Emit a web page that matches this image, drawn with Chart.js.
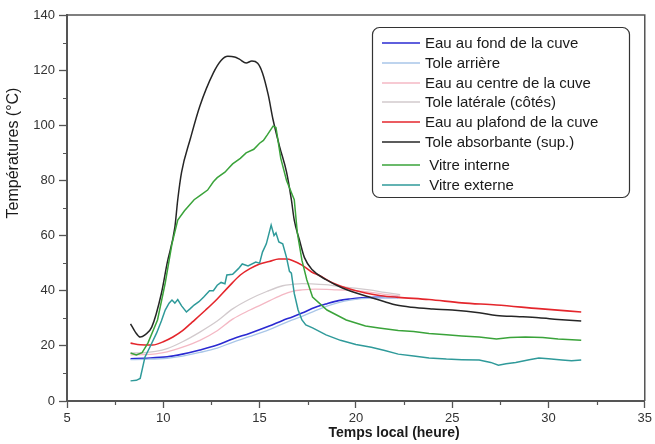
<!DOCTYPE html>
<html>
<head>
<meta charset="utf-8">
<script src="https://cdn.jsdelivr.net/npm/chart.js@4.4.1/dist/chart.umd.min.js"></script>
<style>
 body {margin:0; background:#fff;}
 canvas {display:block;}
</style>
</head>
<body>
<canvas id="chart" width="655" height="444"></canvas>
<script>
// DATA (temps local en heures, températures en °C)

var fond_x     = [8.3, 9.0, 10.2, 11.0, 11.9, 12.8, 13.6, 14.5, 15.5, 16.2, 16.7, 17.2, 17.9, 18.5, 19.1, 19.7, 20.3, 21.0, 21.6, 22.2];
var fond_y     = [15.3, 15.5, 16, 17, 18.5, 20.3, 22.5, 24.6, 27.2, 29.2, 30.5, 31.9, 34, 35.3, 36.4, 37, 37.4, 37.6, 37.6, 37.6];

var arriere_x  = [8.3, 9.0, 10.2, 11.0, 11.9, 12.8, 13.6, 14.5, 15.5, 16.2, 16.7, 17.2, 17.9, 18.5, 19.1, 19.7, 20.3, 21.0, 21.6, 22.3];
var arriere_y  = [15, 15.1, 15.5, 16.3, 17.6, 19.2, 21.3, 23.4, 25.9, 28, 29.4, 30.7, 32.8, 34.4, 35.7, 36.6, 37.1, 37.4, 37.5, 37.5];

var centre_x   = [8.3, 9.0, 9.6, 10.2, 11.0, 11.9, 12.8, 13.6, 14.5, 15.5, 16.2, 16.7, 17.2, 17.9, 18.5, 19.0, 19.65, 20.7, 21.4, 22.3];
var centre_y   = [16.7, 16.8, 17.1, 17.8, 19.5, 22, 25.5, 29.7, 33, 36.3, 38.6, 39.8, 40.3, 40.6, 40.5, 40.3, 40.2, 39.5, 38.8, 38];

var laterale_x = [8.3, 9.0, 9.6, 10.2, 11.0, 11.9, 12.8, 13.6, 14.5, 15.4, 16.2, 16.7, 17.2, 17.7, 18.4, 19.0, 19.8, 20.7, 21.5, 22.3];
var laterale_y = [17.4, 17.5, 18, 19, 21.5, 25, 29, 33.4, 37, 39.8, 41.8, 42.3, 42.6, 42.5, 42.2, 41.7, 41, 40.3, 39.4, 38.6];

var plafond_x  = [8.3, 8.8, 9.45, 10.0, 10.5, 11.0, 11.5, 12.2, 12.8, 13.4, 14.0, 14.5, 15.0, 15.5, 16.0, 16.4, 16.7, 17.2, 17.7, 18.1, 18.8, 19.5, 20.5, 21.3, 22.2, 23.8, 25.5, 27.3, 29.5, 31.7];
var plafond_y  = [21, 20.4, 20.3, 21.5, 23.2, 25.5, 28.6, 33, 37, 41.5, 45.7, 48, 49.7, 50.6, 51.5, 51.5, 51, 49.3, 46.8, 45.5, 42.8, 41, 39.2, 38.2, 37.6, 36.8, 35.6, 34.8, 33.5, 32.3];

var absorb_x   = [8.3, 8.55, 8.8, 9.05, 9.4, 9.9, 10.2, 10.6, 10.75, 10.95, 11.4, 11.9, 12.6, 13.0, 13.35, 13.7, 13.95, 14.3, 14.6, 14.9, 15.15, 15.45, 15.7, 16.05, 16.4, 16.65, 16.8, 17.07, 17.33, 17.75, 18.45, 19.3, 20.7, 21.5, 22.1, 22.9, 24.0, 25.0, 26.4, 27.3, 28.5, 29.5, 30.5, 31.7];
var absorb_y   = [28, 25, 23.2, 24, 26.8, 39, 50, 63, 73, 83, 95, 107, 119, 123.5, 125, 124.8, 124, 122.6, 123.3, 122.5, 119, 111, 102, 92, 83, 73, 65.6, 58.4, 52, 47.5, 44, 41, 37.7, 36, 34.8, 34, 33.4, 33, 32, 31, 30.6, 30.2, 29.6, 29];

var interne_x  = [8.3, 8.6, 8.9, 9.2, 9.7, 10.1, 10.45, 10.75, 11.1, 11.6, 11.9, 12.3, 12.6, 12.8, 13.2, 13.4, 13.6, 14.0, 14.3, 14.7, 15.0, 15.2, 15.4, 15.7, 15.85, 16.1, 16.4, 16.8, 16.96, 17.2, 17.45, 17.75, 18.5, 19.5, 20.5, 21.2, 22.2, 23.0, 23.8, 24.7, 25.5, 26.4, 27.3, 28.0, 28.8, 29.7, 30.5, 31.7];
var interne_y  = [17.4, 16.7, 17.5, 21, 29.4, 42.8, 57, 65.6, 69, 73, 74.5, 76.5, 79.5, 81, 83, 84.5, 86, 88, 90, 91.3, 93.5, 94.5, 96.5, 99.7, 99.2, 88, 80, 73, 61, 51, 44, 37.7, 33, 29.4, 27.2, 26.5, 25.6, 25.2, 24.5, 24, 23.6, 23.2, 22.5, 23, 23.2, 23, 22.5, 22];

var externe_x  = [8.3, 8.6, 8.8, 9.05, 9.3, 9.65, 9.9, 10.1, 10.3, 10.45, 10.6, 10.75, 10.95, 11.2, 11.4, 11.6, 11.85, 12.1, 12.4, 12.6, 12.8, 13.0, 13.2, 13.3, 13.6, 13.9, 14.1, 14.4, 14.8, 15.0, 15.15, 15.35, 15.6, 15.75, 15.85, 16.0, 16.2, 16.4, 16.55, 16.65, 16.8, 17.0, 17.2, 17.4, 17.75, 18.45, 19.2, 20.0, 20.8, 21.5, 22.2, 23.0, 23.8, 24.7, 25.5, 26.4, 27.0, 27.4, 27.8, 28.3, 29.0, 29.5, 30.0, 30.7, 31.2, 31.7];
var externe_y  = [7.3, 7.5, 8.2, 16, 19.5, 24.6, 29, 33, 35.5, 36.6, 35.5, 36.8, 34.5, 32.3, 33.5, 34.8, 36, 37.7, 40, 40, 42, 43, 42.5, 45.7, 46, 48, 49.7, 49, 50.4, 50, 54, 57, 63.8, 60, 61, 57.7, 57, 52, 47, 46.4, 39, 33, 29.4, 27.6, 26.5, 24, 22, 20.5, 19.5, 18.3, 17, 16.3, 15.6, 15.2, 15, 14.9, 14, 13, 13.5, 14, 15, 15.6, 15.3, 14.9, 14.6, 14.9];

var labels = ["Eau au fond de la cuve", "Tole arrière", "Eau au centre de la cuve", "Tole latérale (côtés)",
              "Eau au plafond de la cuve", "Tole absorbante (sup.)", " Vitre interne", " Vitre externe"];

var y_ticks = [0, 20, 40, 60, 80, 100, 120, 140];
var x_ticks = [5, 10, 15, 20, 25, 30, 35];


// STYLES
var font   = "'Liberation Sans', Arial, sans-serif";
var axis   = "#555555";
var colors = ["#2a2ad2", "#a9c6e8", "#f4b8c4", "#d2cacd", "#e4262c", "#262626", "#3aa33a", "#2f9a9a"];
var widths = [1.6, 1.3, 1.3, 1.3, 1.6, 1.5, 1.5, 1.5];
var smooth = [true, true, true, true, true, true, false, false];


function Points(xs, ys)
{
 var points = [];
 for(var i = 0; i < xs.length; i++) points.push({x:xs[i], y:ys[i]});
 return points;
}

var series = [[fond_x, fond_y], [arriere_x, arriere_y], [centre_x, centre_y], [laterale_x, laterale_y],
              [plafond_x, plafond_y], [absorb_x, absorb_y], [interne_x, interne_y], [externe_x, externe_y]];

var datasets = [];
for(var i = 0; i < series.length; i++)
{
 var set = {};
 set["label"]                  = labels[i];
 set["data"]                   = Points(series[i][0], series[i][1]);
 set["borderColor"]            = colors[i];
 set["borderWidth"]            = widths[i];
 set["pointRadius"]            = 0;
 set["fill"]                   = false;
 set["cubicInterpolationMode"] = smooth[i] ? "monotone" : "default";
 set["tension"]                = 0;
 datasets.push(set);
}
// draw the dark lines over the pale ones, like the original
datasets.reverse();
var order = datasets.slice().reverse();


// FRAME, MINOR TICKS, TITLES, LEGEND
var decor =
{
 id: "decor",
 afterDraw: function(chart)
 {
  var ctx  = chart.ctx;
  var area = chart.chartArea;
  var sx   = chart.scales.x;
  var sy   = chart.scales.y;

  ctx.save();
  ctx.strokeStyle = axis;
  ctx.lineWidth   = 1.5;
  ctx.beginPath();
  ctx.moveTo(area.left, area.top);
  ctx.lineTo(area.right, area.top);
  ctx.lineTo(area.right, area.bottom);
  ctx.stroke();

  // minor ticks
  ctx.lineWidth = 1.2;
  ctx.beginPath();
  for(var k = 0; k < y_ticks.length - 1; k++)
  {
   var py = Math.round(sy.getPixelForValue((y_ticks[k] + y_ticks[k + 1]) / 2)) + 0.5;
   ctx.moveTo(area.left - 4, py);
   ctx.lineTo(area.left, py);
  }
  for(var k = 0; k < x_ticks.length - 1; k++)
  {
   var px = Math.round(sx.getPixelForValue((x_ticks[k] + x_ticks[k + 1]) / 2)) + 0.5;
   ctx.moveTo(px, area.bottom);
   ctx.lineTo(px, area.bottom + 4);
  }
  ctx.stroke();

  // axis titles
  ctx.fillStyle    = "#1a1a1a";
  ctx.textAlign    = "center";
  ctx.textBaseline = "middle";
  ctx.font         = "bold 14px " + font;
  ctx.fillText("Temps local (heure)", 394, 433);

  ctx.save();
  ctx.translate(14, 153);
  ctx.rotate(-Math.PI / 2);
  ctx.font = "16px " + font;
  ctx.fillText("Températures (°C)", 0, 0);
  ctx.restore();

  // legend
  var bx = 372, by = 27, bw = 257, bh = 170, r = 7;
  ctx.fillStyle   = "#ffffff";
  ctx.strokeStyle = "#333333";
  ctx.lineWidth   = 1.2;
  ctx.beginPath();
  ctx.roundRect(bx + 0.5, by + 0.5, bw, bh, r);
  ctx.fill();
  ctx.stroke();

  var rows = [43, 63, 83, 102, 122, 142, 165, 185];
  ctx.font      = "15px " + font;
  ctx.textAlign = "left";
  for(var k = 0; k < order.length; k++)
  {
   var item = order[k];
   ctx.strokeStyle = item.borderColor;
   ctx.lineWidth   = item.borderWidth;
   ctx.beginPath();
   ctx.moveTo(382, rows[k]);
   ctx.lineTo(420, rows[k]);
   ctx.stroke();

   ctx.fillStyle = "#1a1a1a";
   ctx.fillText(item.label, 425, rows[k] + 1);
  }
  ctx.restore();
 }
};


var config =
{
 type: "line",
 data: {datasets},
 plugins: [decor],
 options:
 {
  responsive: false,
  animation:  false,
  layout:     {padding: {left:0, top:15, right:10, bottom:0}},
  plugins:    {legend: {display:false}, tooltip: {enabled:false}},
  scales:
  {
   x:
   {
    type: "linear", min: 5, max: 35,
    afterFit: function(scale) { scale.height = 43; },
    ticks:  {stepSize: 5, color: "#333333", padding: 3, font: {family: font, size: 13}},
    grid:   {drawOnChartArea: false, drawTicks: true, tickLength: 7, tickColor: axis, tickWidth: 1.3},
    border: {color: axis, width: 2}
   },
   y:
   {
    min: 0, max: 140,
    afterFit: function(scale) { scale.width = 67; },
    ticks:  {stepSize: 20, color: "#333333", padding: 4, font: {family: font, size: 13}},
    grid:   {drawOnChartArea: false, drawTicks: true, tickLength: 8, tickColor: axis, tickWidth: 1.3},
    border: {color: axis, width: 2}
   }
  }
 }
};

var canvas  = document.getElementById("chart");
var context = canvas.getContext("2d");
var chart   = new Chart(context, config);
</script>
</body>
</html>
